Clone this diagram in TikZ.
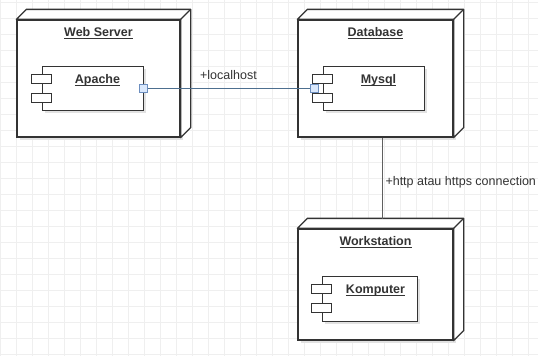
\documentclass[tikz,border=0pt]{standalone}
\usepackage{fontspec}
\setmainfont{Liberation Sans}
\usepackage{xcolor}
\definecolor{umlLine}{HTML}{333333}
\definecolor{umlText}{HTML}{333333}
\definecolor{umlGrid}{HTML}{EFEFEF}
\definecolor{umlShadow}{HTML}{E2E2E2}
\definecolor{portFill}{HTML}{DAE8FC}
\definecolor{portLine}{HTML}{6C8EBF}
\definecolor{linkBlue}{HTML}{4D6F8F}
\definecolor{linkGray}{HTML}{5F5F5F}
\usetikzlibrary{calc,positioning,shadows}

\newsavebox\ulbox
\newcommand\umlul[1]{\sbox\ulbox{#1}\rlap{\rule[-2.4pt]{\wd\ulbox}{0.9pt}}\usebox\ulbox}

\tikzset{
  umlnode/.style={draw=umlLine, line width=1.3pt, fill=white, inner sep=0pt,
    general shadow={fill=umlShadow, shadow xshift=3pt, shadow yshift=-3pt}},
  umlcomp/.style={draw=umlLine, line width=1pt, fill=white, inner sep=0pt,
    minimum width=101pt, minimum height=44pt,
    general shadow={fill=umlShadow, shadow xshift=3pt, shadow yshift=-3pt}},
  compbar/.style={draw=umlLine, line width=1pt, fill=white, inner sep=0pt,
    minimum width=20pt, minimum height=9pt},
  umlport/.style={draw=portLine, fill=portFill, line width=0.8pt, inner sep=0pt,
    minimum size=8pt},
  umltitle/.style={font=\fontsize{12.5}{15}\selectfont\bfseries, text=umlText,
    anchor=base, inner sep=0pt},
  linklabel/.style={font=\fontsize{12.5}{15}\selectfont, text=umlText,
    anchor=base west, inner sep=0pt},
}

\begin{document}
\begin{tikzpicture}[x=1pt,y=-1pt]
  \useasboundingbox (0,0) rectangle (538,356);
  \fill[white] (0,0) rectangle (538,356);
  % grid
  \foreach \gx in {0.7,16.7,...,538}
    \draw[umlGrid, line width=0.6pt] (\gx,0) -- (\gx,356);
  \foreach \gy in {2.7,18.7,...,356}
    \draw[umlGrid, line width=0.6pt] (0,\gy) -- (538,\gy);

  % deployment nodes
  \node[umlnode, minimum width=163pt, minimum height=117pt] (websrv) at (98.5,78.5) {};
  \node[umlnode, minimum width=155pt, minimum height=117pt] (db) at (375.5,78.5) {};
  \node[umlnode, minimum width=155pt, minimum height=111pt] (ws) at (375.5,284.5) {};
  \foreach \n in {websrv,db,ws} {
    \draw[umlLine, line width=1.3pt, fill=white, line join=round]
      (\n.north west) -- ++(10,-10) -| ($(\n.south east)+(10,-10)$)
      -- (\n.south east) -- (\n.north east) -- cycle;
    \draw[umlLine, line width=1.3pt] (\n.north east) -- ++(10,-10);
  }
  \node[umltitle] (websrvlbl) at ($(websrv.north)+(0,17.5)$) {\umlul{Web Server}};
  \node[umltitle] (dblbl) at ($(db.north)+(0,17.5)$) {\umlul{Database}};
  \node[umltitle] (wslbl) at ($(ws.north)+(0,17.5)$) {\umlul{Workstation}};

  % components
  \node[umlcomp] (apache) at (92.5,88) {};
  \node[umlcomp] (mysql) at (373.5,88) {};
  \node[umlcomp, minimum width=95pt, minimum height=45pt] (komputer) at (369.5,298.5) {};
  \foreach \c in {apache,mysql,komputer} {
    \node[compbar] (\c bar1) at ($(\c.north west)+(0,13)$) {};
    \node[compbar] (\c bar2) at ($(\c.north west)+(0,32.5)$) {};
  }
  \node[umltitle] (apachelbl) at ($(apache.north)+(5,18)$) {\umlul{Apache}};
  \node[umltitle] (mysqllbl) at ($(mysql.north)+(5,18)$) {\umlul{Mysql}};
  \node[umltitle] (komputerlbl) at ($(komputer.north)+(6,17.5)$) {\umlul{Komputer}};

  % ports
  \node[umlport] (apacheport) at ($(apache.east)+(0,0.5)$) {};
  \node[umlport] (mysqlport) at ($(mysql.west)+(-8.5,0.5)$) {};

  % connectors
  \draw[linkBlue, line width=1pt] (apacheport) --
    node[linklabel, pos=0.32, yshift=9pt] (locallbl) {+localhost} (mysqlport);
  \coordinate (wsback) at ($(ws.north)+(6.5,-9)$);
  \draw[linkGray, line width=1pt] (db.south -| wsback) --
    node[linklabel, pos=0.58, xshift=3pt] (httplbl) {+http atau https connection} (wsback);
\end{tikzpicture}
\end{document}
